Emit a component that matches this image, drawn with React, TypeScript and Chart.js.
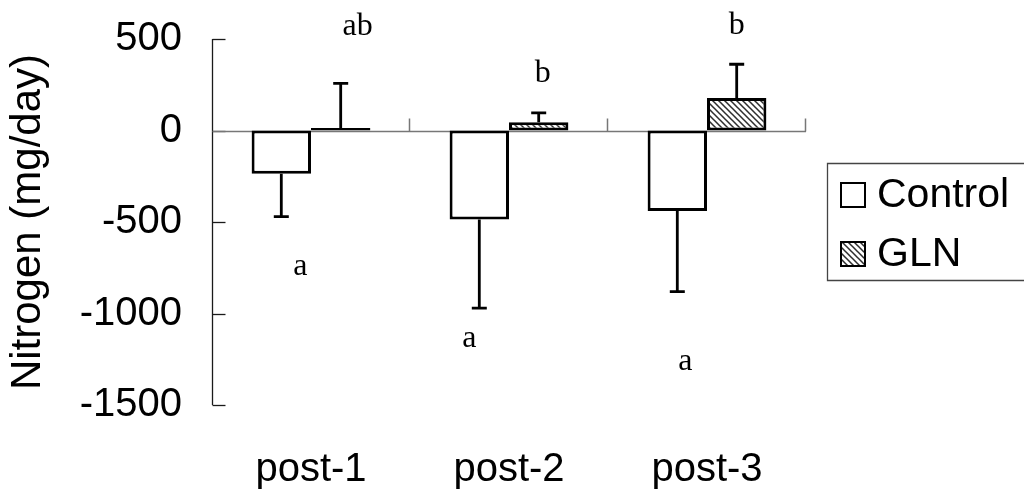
import React, { useEffect, useRef } from 'react';
import { Chart, registerables } from 'chart.js';

Chart.register(...registerables);

// ---- data ----
const categories = ['post-1', 'post-2', 'post-3'];
const seriesNames = ['Control', 'GLN'];
const controlMeans = [-237, -486, -440];
const controlErrors = [234, 485, 440];
const glnMeans = [14, 45, 178];
const glnErrors = [244, 51, 184];
const yTickValues = [-1500, -1000, -500, 0, 500];
const controlLetters = ['a', 'a', 'a'];
const glnLetters = ['ab', 'b', 'b'];

// ---- annotation placement (letter baseline in data units, x shift in px from bar centre) ----
const controlLetterBase = [-789, -1182, -1307];
const glnLetterBase = [520, 264, 525];
const controlLetterShift = [19, -10, 8];
const glnLetterShift = [17, 4, 0];

const SANS = '"Liberation Sans", Arial, Helvetica, sans-serif';
const SERIF = '"Liberation Serif", "Times New Roman", serif';

function makeHatch(): CanvasPattern | string {
  const c = document.createElement('canvas');
  c.width = 6;
  c.height = 6;
  const g = c.getContext('2d');
  if (!g) return '#999';
  g.fillStyle = '#ffffff';
  g.fillRect(0, 0, 6, 6);
  g.strokeStyle = '#2e2e2e';
  g.lineWidth = 1.5;
  g.beginPath();
  g.moveTo(-1, -1);
  g.lineTo(7, 7);
  g.moveTo(-1, 5);
  g.lineTo(1, 7);
  g.moveTo(5, -1);
  g.lineTo(7, 1);
  g.stroke();
  return g.createPattern(c, 'repeat') || '#999';
}

const errorsBySeries = [controlErrors, glnErrors];
const lettersBySeries = [controlLetters, glnLetters];
const letterBaseBySeries = [controlLetterBase, glnLetterBase];
const letterShiftBySeries = [controlLetterShift, glnLetterShift];

const decorPlugin = {
  id: 'decor',
  beforeDatasetsDraw(chart: any) {
    const { ctx, chartArea, scales } = chart;
    const ys = scales.y;
    const left = Math.round(chartArea.left) + 0.5;
    ctx.save();
    ctx.strokeStyle = '#1a1a1a';
    ctx.lineWidth = 1.3;
    ctx.beginPath();
    ctx.moveTo(left, ys.getPixelForValue(ys.max));
    ctx.lineTo(left, ys.getPixelForValue(ys.min));
    ctx.stroke();
    ys.ticks.forEach((t: any) => {
      const py = Math.round(ys.getPixelForValue(t.value)) + 0.5;
      ctx.beginPath();
      ctx.moveTo(left, py);
      ctx.lineTo(left + 13, py);
      ctx.stroke();
    });
    const y0 = Math.round(ys.getPixelForValue(0)) + 0.5;
    ctx.strokeStyle = '#777777';
    ctx.lineWidth = 1.5;
    ctx.beginPath();
    ctx.moveTo(left, y0);
    ctx.lineTo(chartArea.right, y0);
    ctx.stroke();
    const n = categories.length;
    const step = (chartArea.right - chartArea.left) / n;
    for (let i = 1; i <= n; i++) {
      const bx = Math.round(chartArea.left + i * step) - 0.5;
      ctx.beginPath();
      ctx.moveTo(bx, y0);
      ctx.lineTo(bx, y0 - 13);
      ctx.stroke();
    }
    ctx.restore();
  },
  afterDatasetsDraw(chart: any) {
    const { ctx, scales } = chart;
    const ys = scales.y;
    ctx.save();
    ctx.strokeStyle = '#000000';
    ctx.lineWidth = 2.8;
    chart.data.datasets.forEach((ds: any, di: number) => {
      const meta = chart.getDatasetMeta(di);
      meta.data.forEach((bar: any, i: number) => {
        const v = ds.data[i];
        const e = errorsBySeries[di][i];
        const end = v < 0 ? v - e : v + e;
        const py1 = ys.getPixelForValue(v);
        const py2 = ys.getPixelForValue(end);
        ctx.beginPath();
        ctx.moveTo(bar.x, py1);
        ctx.lineTo(bar.x, py2);
        ctx.moveTo(bar.x - 7.5, py2);
        ctx.lineTo(bar.x + 7.5, py2);
        ctx.stroke();
      });
    });
    ctx.fillStyle = '#000000';
    ctx.font = `32px ${SERIF}`;
    ctx.textAlign = 'center';
    ctx.textBaseline = 'alphabetic';
    chart.data.datasets.forEach((ds: any, di: number) => {
      const meta = chart.getDatasetMeta(di);
      meta.data.forEach((bar: any, i: number) => {
        const px = bar.x + letterShiftBySeries[di][i];
        const py = ys.getPixelForValue(letterBaseBySeries[di][i]);
        ctx.fillText(lettersBySeries[di][i], px, py);
      });
    });
    const boxL = 827.5, boxT = 163.5, boxB = 280.5;
    ctx.strokeStyle = '#444444';
    ctx.lineWidth = 1.3;
    ctx.beginPath();
    ctx.moveTo(1030, boxT);
    ctx.lineTo(boxL, boxT);
    ctx.lineTo(boxL, boxB);
    ctx.lineTo(1030, boxB);
    ctx.stroke();
    const rowsY = [195, 254];
    ctx.font = `41px ${SANS}`;
    ctx.textAlign = 'left';
    ctx.textBaseline = 'middle';
    chart.data.datasets.forEach((ds: any, di: number) => {
      const cy = rowsY[di];
      ctx.fillStyle = ds.backgroundColor;
      ctx.fillRect(841, cy - 12, 24, 24);
      ctx.strokeStyle = '#000000';
      ctx.lineWidth = 2;
      ctx.strokeRect(841, cy - 12, 24, 24);
      ctx.fillStyle = '#000000';
      ctx.fillText(ds.label, 877, cy + 1);
    });
    ctx.restore();
  },
};

export default function App() {
  const ref = useRef<HTMLCanvasElement | null>(null);
  useEffect(() => {
    if (!ref.current) return;
    const hatch = makeHatch();
    const tickFont = { family: SANS, size: 40 };
    const chart = new Chart(ref.current, {
      type: 'bar',
      data: {
        labels: categories,
        datasets: [
          {
            label: seriesNames[0],
            data: controlMeans,
            backgroundColor: '#ffffff',
            borderColor: '#000000',
            borderWidth: 3,
            borderSkipped: false,
          },
          {
            label: seriesNames[1],
            data: glnMeans,
            backgroundColor: hatch as any,
            borderColor: '#000000',
            borderWidth: 3,
            borderSkipped: false,
          },
        ],
      },
      options: {
        animation: false,
        responsive: false,
        devicePixelRatio: 1,
        layout: { padding: { top: 39, right: 218, left: 0, bottom: 0 } },
        datasets: { bar: { categoryPercentage: 0.6, barPercentage: 1 } },
        plugins: { legend: { display: false }, tooltip: { enabled: false } },
        scales: {
          x: {
            grid: { display: false, drawTicks: false },
            border: { display: false },
            ticks: { font: tickFont, color: '#000000', padding: 41 },
            afterFit: (s: any) => {
              s.height = 91;
            },
          },
          y: {
            min: yTickValues[0],
            max: yTickValues[yTickValues.length - 1],
            grid: { display: false, drawTicks: true, tickLength: 30 },
            border: { display: false },
            afterBuildTicks: (s: any) => {
              s.ticks = yTickValues.map((v) => ({ value: v }));
            },
            ticks: {
              font: tickFont,
              color: '#000000',
              padding: 0,
              callback: (v: any) => String(v),
            },
            title: {
              display: true,
              text: 'Nitrogen (mg/day)',
              font: { family: SANS, size: 42 },
              color: '#000000',
              padding: { top: 3, bottom: 0 },
            },
            afterFit: (s: any) => {
              s.width = 212;
            },
          },
        },
      },
      plugins: [decorPlugin],
    } as any);
    return () => chart.destroy();
  }, []);
  return (
    <div style={{ position: 'fixed', left: 0, top: 0, width: 1024, height: 496, background: '#fff' }}>
      <canvas ref={ref} width={1024} height={496} style={{ display: 'block' }} />
    </div>
  );
}
